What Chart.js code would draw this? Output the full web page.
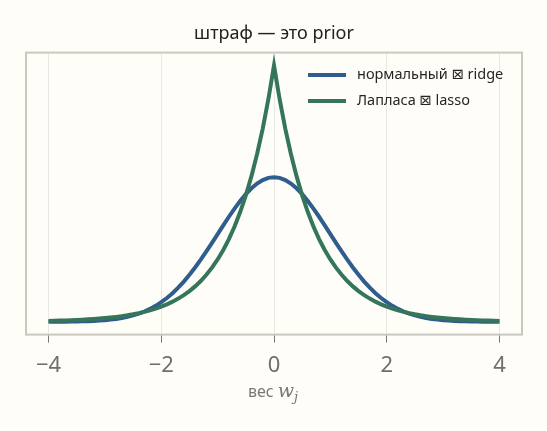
<!DOCTYPE html>
<html><head><meta charset="utf-8">
<script src="https://cdn.jsdelivr.net/npm/chart.js@4/dist/chart.umd.min.js"></script>
<style>html,body{margin:0;padding:0;background:#fefdf8;}#wrap{width:547px;height:431px;}</style>
</head><body><div id="wrap"><canvas id="c" width="547" height="431"></canvas></div>
<script>
const titleText = "штраф — это prior";
const seriesLabels = ["нормальный \u22A0 ridge", "Лапласа \u22A0 lasso"];
const xTicks = [-4, -2, 0, 2, 4];
const xTickLabels = ["\u22124", "\u22122", "0", "2", "4"];
const xs = [-4.0,-3.9,-3.8,-3.7,-3.6,-3.5,-3.4,-3.3,-3.2,-3.1,-3.0,-2.9,-2.8,-2.7,-2.6,-2.5,-2.4,-2.3,-2.2,-2.1,-2.0,-1.9,-1.8,-1.7,-1.6,-1.5,-1.4,-1.3,-1.2,-1.1,-1.0,-0.9,-0.8,-0.7,-0.6,-0.5,-0.4,-0.3,-0.2,-0.1,0.0,0.1,0.2,0.3,0.4,0.5,0.6,0.7,0.8,0.9,1.0,1.1,1.2,1.3,1.4,1.5,1.6,1.7,1.8,1.9,2.0,2.1,2.2,2.3,2.4,2.5,2.6,2.7,2.8,2.9,3.0,3.1,3.2,3.3,3.4,3.5,3.6,3.7,3.8,3.9,4.0];
const normalVals = [0.00013,0.00020,0.00029,0.00042,0.00061,0.00087,0.00123,0.00172,0.00238,0.00327,0.00443,0.00595,0.00792,0.01042,0.01358,0.01753,0.02239,0.02833,0.03547,0.04398,0.05399,0.06562,0.07895,0.09405,0.11092,0.12952,0.14973,0.17137,0.19419,0.21785,0.24197,0.26609,0.28969,0.31225,0.33322,0.35207,0.36827,0.38139,0.39104,0.39695,0.39894,0.39695,0.39104,0.38139,0.36827,0.35207,0.33322,0.31225,0.28969,0.26609,0.24197,0.21785,0.19419,0.17137,0.14973,0.12952,0.11092,0.09405,0.07895,0.06562,0.05399,0.04398,0.03547,0.02833,0.02239,0.01753,0.01358,0.01042,0.00792,0.00595,0.00443,0.00327,0.00238,0.00172,0.00123,0.00087,0.00061,0.00042,0.00029,0.00020,0.00013];
const laplaceVals = [0.00247,0.00285,0.00328,0.00378,0.00435,0.00501,0.00577,0.00665,0.00766,0.00882,0.01016,0.01170,0.01348,0.01553,0.01789,0.02061,0.02374,0.02734,0.03150,0.03628,0.04179,0.04814,0.05546,0.06388,0.07359,0.08476,0.09764,0.11247,0.12956,0.14924,0.17191,0.19802,0.22811,0.26276,0.30268,0.34865,0.40162,0.46263,0.53290,0.61386,0.70711,0.61386,0.53290,0.46263,0.40162,0.34865,0.30268,0.26276,0.22811,0.19802,0.17191,0.14924,0.12956,0.11247,0.09764,0.08476,0.07359,0.06388,0.05546,0.04814,0.04179,0.03628,0.03150,0.02734,0.02374,0.02061,0.01789,0.01553,0.01348,0.01170,0.01016,0.00882,0.00766,0.00665,0.00577,0.00501,0.00435,0.00378,0.00328,0.00285,0.00247];

const colors = ["#2f5d8e", "#35755a"];
const FONT = "'Noto Sans', 'DejaVu Sans', sans-serif";

const bgPlugin = {
  id: 'bg',
  beforeDraw(chart) {
    const ctx = chart.ctx;
    ctx.save(); ctx.fillStyle = '#fefdf8'; ctx.fillRect(0, 0, chart.width, chart.height); ctx.restore();
  }
};
const framePlugin = {
  id: 'frame',
  afterDraw(chart) {
    const ctx = chart.ctx, a = chart.chartArea;
    ctx.save();
    ctx.strokeStyle = '#c9c9c1'; ctx.lineWidth = 2;
    ctx.strokeRect(a.left, a.top, a.right - a.left, a.bottom - a.top);
    // legend
    const lx = 308, ly = [75, 101];
    ctx.font = "14.5px 'Noto Sans', 'DejaVu Sans', sans-serif";
    ctx.textBaseline = 'middle';
    chart.data.datasets.forEach((ds, i) => {
      ctx.strokeStyle = ds.borderColor; ctx.lineWidth = 4; ctx.lineCap = 'butt';
      ctx.beginPath(); ctx.moveTo(lx, ly[i]); ctx.lineTo(lx + 38, ly[i]); ctx.stroke();
      ctx.fillStyle = '#262626';
      ctx.fillText(ds.label, lx + 49, ly[i]);
    });
    // x label: "вес w_j"
    const cx = 273, cy = 392;
    const f1 = "16px " + FONT, f2 = "italic 19px 'DejaVu Serif', serif", f3 = "italic 13px 'DejaVu Serif', serif";
    ctx.font = f1; const w1 = ctx.measureText("вес ").width;
    ctx.font = f2; const w2 = ctx.measureText("w").width;
    ctx.font = f3; const w3 = ctx.measureText("j").width;
    let x0 = cx - (w1 + w2 + w3) / 2;
    ctx.fillStyle = '#777777'; ctx.textBaseline = 'alphabetic'; ctx.textAlign = 'left';
    ctx.font = f1; ctx.fillText("вес ", x0, cy + 5);
    ctx.font = f2; ctx.fillText("w", x0 + w1, cy + 5);
    ctx.font = f3; ctx.fillText("j", x0 + w1 + w2, cy + 9);
    ctx.restore();
  }
};

new Chart(document.getElementById('c'), {
  type: 'line',
  data: {
    datasets: [
      { label: seriesLabels[0], data: xs.map((x, i) => ({x, y: normalVals[i]})), borderColor: colors[0], borderWidth: 4, pointRadius: 0, tension: 0, fill: false, order: 1 },
      { label: seriesLabels[1], data: xs.map((x, i) => ({x, y: laplaceVals[i]})), borderColor: colors[1], borderWidth: 4, pointRadius: 0, tension: 0, fill: false, order: 0 }
    ]
  },
  options: {
    responsive: false, animation: false, devicePixelRatio: 1,
    layout: { padding: { left: 26, right: 25, top: 0, bottom: 42 } },
    plugins: {
      legend: { display: false },
      tooltip: { enabled: false },
      title: { display: true, text: titleText, color: '#222', font: { family: FONT, size: 18, weight: 'normal' }, padding: { top: 23, bottom: 8 } }
    },
    scales: {
      x: {
        type: 'linear', min: -4.4, max: 4.4,
        afterBuildTicks(scale) { scale.ticks = xTicks.map(v => ({ value: v })); },
        ticks: { callback: (v) => xTickLabels[xTicks.indexOf(v)], color: '#6e6e6e', font: { family: FONT, size: 22 }, padding: 10, maxRotation: 0, autoSkip: false },
        grid: { color: '#e9e9e4', lineWidth: 1, tickColor: '#777', tickLength: 8, drawTicks: true },
        border: { display: false }
      },
      y: { type: 'linear', display: false, min: -0.03536, max: 0.74246 }
    }
  },
  plugins: [bgPlugin, framePlugin]
});
</script></body></html>
